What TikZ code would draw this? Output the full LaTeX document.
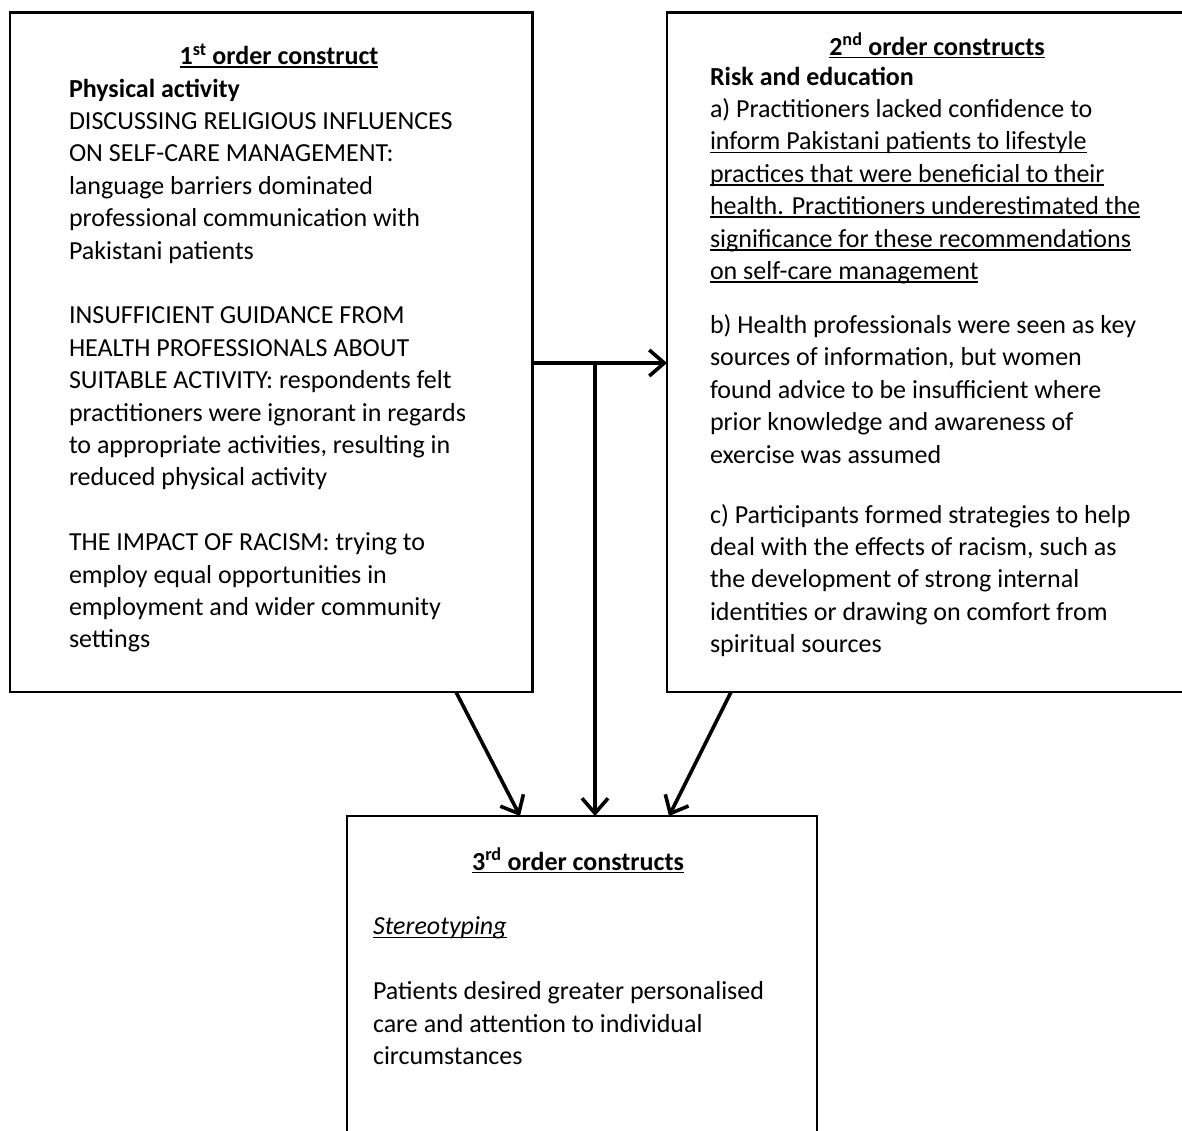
\documentclass[tikz,border=0pt]{standalone}
\usepackage{fontspec}
\setmainfont{Carlito}
\usetikzlibrary{arrows.meta}
\newcommand\ulx[1]{\setbox0\hbox{#1}\rlap{\rule[-3.4pt]{\wd0}{1.7pt}}\box0}
\begin{document}
\begin{tikzpicture}[x=1pt,y=-1pt,
  boxst/.style={draw, line width=2.8pt, outer sep=0pt, inner sep=0pt, anchor=north west},
  txt/.style={anchor=base west, inner sep=0pt, outer sep=0pt, font=\fontsize{26}{32.4}\selectfont},
  ttl/.style={anchor=base, inner sep=0pt, outer sep=0pt, font=\fontsize{26}{32.4}\selectfont\bfseries},
  arr/.style={line width=3.6pt, -{Straight Barb[length=15pt, width=26pt]}}
]
\useasboundingbox (0,0) rectangle (1182,1130);
\clip (0,0) rectangle (1182,1130);
% boxes
\node[boxst, minimum width=522.5pt, minimum height=679.5pt] (b1) at (10,12.5) {};
\node[boxst, minimum width=600pt, minimum height=679.5pt] (b2) at (667,12.5) {};
\node[boxst, minimum width=470pt, minimum height=400pt] (b3) at (347,816) {};
% box 1 text
\node[ttl] (t1) at (279,64.6) {\ulx{1\textsuperscript{st} order construct}};
\node[txt, font=\fontsize{26}{32.4}\selectfont\bfseries] (h1) at (69,97) {Physical activity};
\foreach \k/\t in {0/{DISCUSSING RELIGIOUS INFLUENCES},
  1/{ON SELF-CARE MANAGEMENT:},
  2/{language barriers dominated},
  3/{professional communication with},
  4/{Pakistani patients},
  6/{INSUFFICIENT GUIDANCE FROM},
  7/{HEALTH PROFESSIONALS ABOUT},
  8/{SUITABLE ACTIVITY: respondents felt},
  9/{practitioners were ignorant in regards},
  10/{to appropriate activities, resulting in},
  11/{reduced physical activity},
  13/{THE IMPACT OF RACISM: trying to},
  14/{employ equal opportunities in},
  15/{employment and wider community},
  16/{settings}}
  \node[txt, name=la\k] at (69,{129.4+32.4*\k}) {\t};
% box 2 text
\node[ttl] (t2) at (937,55) {\ulx{2\textsuperscript{nd} order constructs}};
\node[txt, font=\fontsize{26}{32.4}\selectfont\bfseries] (h2) at (710,85) {Risk and education};
\foreach \k/\t in {0/{a) Practitioners lacked confidence to},
  1/{\ulx{inform Pakistani patients to lifestyle}},
  2/{\ulx{practices that were beneficial to their}},
  3/{\ulx{health. Practitioners underestimated the}},
  4/{\ulx{significance for these recommendations}},
  5/{\ulx{on self-care management}}}
  \node[txt, name=ra\k] at (710,{117.5+32.4*\k}) {\t};
\foreach \k/\t in {0/{b) Health professionals were seen as key},
  1/{sources of information, but women},
  2/{found advice to be insufficient where},
  3/{prior knowledge and awareness of},
  4/{exercise was assumed}}
  \node[txt, name=rb\k] at (710,{333.4+32.4*\k}) {\t};
\foreach \k/\t in {0/{c) Participants formed strategies to help},
  1/{deal with the effects of racism, such as},
  2/{the development of strong internal},
  3/{identities or drawing on comfort from},
  4/{spiritual sources}}
  \node[txt, name=rc\k] at (710,{523+32.4*\k}) {\t};
% box 3 text
\node[ttl] (t3) at (578,870) {\ulx{3\textsuperscript{rd} order constructs}};
\node[txt, font=\fontsize{26}{32.4}\selectfont\itshape] (s3) at (373,934.8) {\ulx{Stereotyping}};
\foreach \k/\t in {0/{Patients desired greater personalised},
  1/{care and attention to individual},
  2/{circumstances}}
  \node[txt, name=p\k] at (373,{999.6+32.4*\k}) {\t};
% connectors
\coordinate (j) at (595,363);
\draw[arr] (b1.east |- j) -- (b2.west |- j);
\draw[arr] (j) -- (j |- b3.north);
\draw[arr] ([xshift=446pt]b1.south west) -- ([xshift=173pt]b3.north west);
\draw[arr] ([xshift=64pt]b2.south west) -- ([xshift=322pt]b3.north west);
\end{tikzpicture}
\end{document}
